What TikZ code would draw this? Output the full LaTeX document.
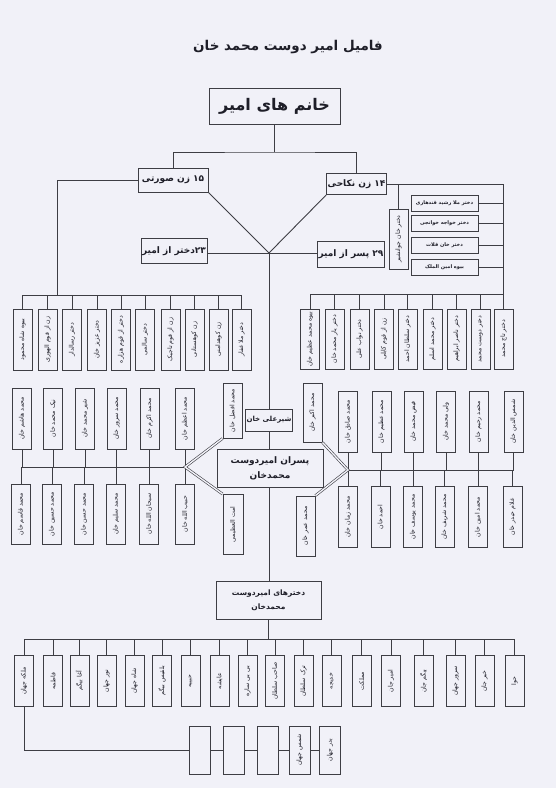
\documentclass[tikz,border=0pt]{standalone}
\usepackage{fontspec}
\usepackage{graphicx}
\newfontfamily\farsi[Script=Arabic]{DejaVu Sans}
\TeXXeTstate=1
\usetikzlibrary{positioning}
\definecolor{PaperWhite}{RGB}{241,241,248}
\definecolor{LineGray}{RGB}{62,62,68}
\definecolor{InkDark}{RGB}{30,30,40}
\newcommand{\fa}[1]{\beginR #1\endR}
\newcommand{\vfa}[1]{\rotatebox{90}{\beginR #1\endR}}

\tikzset{
  link/.style={draw=LineGray, line width=0.9pt},
  dlink/.style={draw=LineGray, line width=0.6pt, double=PaperWhite, double distance=1.4pt},
  box/.style={draw=LineGray, line width=1pt, text=InkDark, inner sep=1pt},
  headbox/.style={box, font=\farsi\bfseries\fontsize{9}{11}\selectfont},
  namebox/.style={box, minimum width=19pt, minimum height=60pt, font=\farsi\fontsize{6.2}{7}\selectfont},
  girlbox/.style={namebox, minimum height=51pt},
  sidebox/.style={box, minimum width=67pt, minimum height=16pt, font=\farsi\bfseries\fontsize{5}{6}\selectfont},
}

\begin{document}
\begin{tikzpicture}[x=1pt,y=-1pt]
  \fill[PaperWhite] (0,0) rectangle (556,788);
  \useasboundingbox (0,0) rectangle (556,788);

  % title and head
  \node[font=\farsi\bfseries\fontsize{13.5}{15}\selectfont, text=InkDark] (title) at (288,47) {\fa{فامیل امیر دوست محمد خان}};
  \node[box, minimum width=131pt, minimum height=36pt, font=\farsi\bfseries\fontsize{16}{18}\selectfont] (khanum) at (274.5,106) {\fa{خانم های امیر}};

  % wives and children counts
  \node[headbox, minimum width=70pt, minimum height=24pt] (surati) at (173,180) {\fa{۱۵ زن صورتی}};
  \node[headbox, minimum width=59pt, minimum height=21pt] (nikahi) at (356.5,184) {\fa{۱۴ زن نکاحی}};
  \node[headbox, minimum width=66pt, minimum height=25pt] (dcount) at (174,251) {\fa{۲۳دختر از امیر}};
  \node[headbox, minimum width=54pt, minimum height=26pt] (pcount) at (351,254) {\fa{۲۹ پسر از امیر}};

  \coordinate (ktop) at (274.5,152);
  \coordinate (vmeet) at (269,253);
  \draw[link] (khanum.south) -- (ktop);
  \draw[link] (surati.north) |- (ktop) -| (nikahi.north);
  \draw[link] (surati.south east) -- (vmeet) -- (nikahi.south west);
  \draw[link] (dcount.east |- vmeet) -- (pcount.west |- vmeet);

  % left wives
  \coordinate (lwbar) at (57,295);
  \draw[link] (surati.west) -| (lwbar);
  \foreach \x/\nm [count=\i] in {22.5/بیوه شاه محمود, 47.5/زن از قوم الهوری, 72/دختر رسالدار,
      97/دختر عزیز خان, 121/دختر از قوم هزاره, 145/دختر سالمی, 170.5/زن از قوم تاجیک,
      194.5/زن کوهستانی, 218.5/زن کوهدامنی, 241.5/دختر ملا غفار}{
    \node[namebox, minimum height=61pt] (lw\i) at (\x,339.5) {\vfa{\nm}};
    \draw[link] (lw\i.north) -- (lw\i.north |- lwbar);
  }
  \draw[link] (lw1.north |- lwbar) -- (lw10.north |- lwbar);

  % right wives
  \coordinate (rtop) at (503.5,184);
  \coordinate (rwbar) at (503.5,294);
  \draw[link] (nikahi.east) -- (rtop) -- (rwbar);
  \foreach \x/\nm [count=\i] in {310/بیوه محمد عظیم خان, 334.5/دختر یار محمد خان, 359.5/دختر نواب علی,
      384/زن از قوم کابلی, 407.5/دختر سلطان احمد, 432.5/دختر محمد اسلم,
      456.5/دختر ناصر ابراهیم, 480.5/دختر دوست محمد, 503.5/دختر تاج محمد}{
    \node[namebox] (rw\i) at (\x,339) {\vfa{\nm}};
    \draw[link] (rw\i.north) -- (rw\i.north |- rwbar);
  }
  \draw[link] (rw1.north |- rwbar) -- (rwbar);

  \foreach \y/\nm [count=\i] in {203/دختر ملا رشید قندهاری, 223.5/دختر خواجه خوانجی,
      245/دختر خان قلات, 267.5/بیوه امین الملک}{
    \node[sidebox] (sd\i) at (444.5,\y) {\fa{\nm}};
    \draw[link] (sd\i.east) -- (sd\i.east -| rtop);
  }
  \node[namebox] (jawan) at (398.5,239) {\vfa{دختر خان جوانشیر}};
  \draw[link] (jawan.north) -- (jawan.north |- rtop);

  % sons
  \node[headbox, minimum width=39pt, minimum height=22pt, font=\farsi\bfseries\fontsize{7}{9}\selectfont] (sherali) at (269,420) {\fa{شیرعلی خان}};
  \node[headbox, minimum width=106pt, minimum height=38pt, align=center] (pesaran) at (270,468) {\fa{پسران امیردوست}\\[4pt]\fa{محمدخان}};
  \draw[link] (vmeet) -- (sherali.north);
  \draw[link] (sherali.south) -- (sherali.south |- pesaran.north);

  \coordinate (lj) at (185,467);
  \coordinate (rj) at (348,470);
  \foreach \x/\nm [count=\i] in {22/محمد هاشم خان, 53/نیک محمد خان, 85/شیر محمد خان,
      116.5/محمد سرور خان, 149.5/محمد اکرم خان, 185/محمد اعظم خان}{
    \node[namebox, minimum height=61pt] (ul\i) at (\x,418.5) {\vfa{\nm}};
    \draw[link] (ul\i.south) -- (ul\i.south |- lj);
  }
  \foreach \x/\nm [count=\i] in {21/محمد قاسم خان, 52/محمد حسین خان, 84/محمد حسن خان,
      116/محمد سلیم خان, 149/سبحان الله خان, 185/حبیب الله خان}{
    \node[namebox] (ll\i) at (\x,514) {\vfa{\nm}};
    \draw[link] (ll\i.north) -- (ll\i.north |- lj);
  }
  \draw[link] (ul1.south |- lj) -- (lj);
  \node[namebox, minimum height=55pt] (afzal) at (232.5,410.5) {\vfa{محمد افضل خان}};
  \node[namebox, minimum width=20pt] (azimi) at (233,524.5) {\vfa{امت العظیمی}};
  \draw[dlink] (afzal.south west) -- (lj) -- (azimi.north west);

  \foreach \x/\nm [count=\i] in {348/محمد صادق خان, 381.5/محمد عظیم خان, 413.5/فیض محمد خان,
      446/ولی محمد خان, 478.5/محمد رحیم خان, 513.5/شمس الدین خان}{
    \node[namebox, minimum height=61pt] (ur\i) at (\x,421.5) {\vfa{\nm}};
    \draw[link] (ur\i.south) -- (ur\i.south |- rj);
  }
  \foreach \x/\nm [count=\i] in {348/محمد زمان خان, 380.5/احمد خان, 413/محمد یوسف خان,
      444.5/محمد شریف خان, 478/محمد امین خان, 512.5/غلام حیدر خان}{
    \node[namebox, minimum height=61pt] (lr\i) at (\x,517) {\vfa{\nm}};
    \draw[link] (lr\i.north) -- (lr\i.north |- rj);
  }
  \draw[link] (rj) -- (ur6.south |- rj);
  \node[namebox, minimum height=59pt] (akbar) at (312.5,412.5) {\vfa{محمد اکبر خان}};
  \node[namebox] (omar) at (305.5,526) {\vfa{محمد عمر خان}};
  \draw[dlink] (akbar.south east) -- (rj) -- (omar.north east);

  % daughters
  \node[headbox, minimum width=105pt, minimum height=38pt, align=center, font=\farsi\bfseries\fontsize{7.5}{9}\selectfont] (dokhtaran) at (268.5,600) {\fa{دخترهای امیردوست}\\[5pt]\fa{محمدخان}};
  \draw[link] (pesaran.south -| sherali) -- (dokhtaran.north -| sherali);
  \coordinate (dbar) at (268.5,639);
  \draw[link] (dokhtaran.south) -- (dbar);
  \foreach \x/\nm [count=\i] in {24/ملکه جهان, 53/فاطمه, 79.5/آغا بیگم, 106.5/نور جهان,
      134.5/شاه جهان, 162/بلقیس بیگم, 190.5/حبیبه, 219.5/عایشه, 247.5/بی بی ساره,
      275/صاحب سلطان, 303.5/ترک سلطان, 331.5/خدیجه, 361.5/مملکت, 391/امیر جان,
      423.5/بیگم جان, 455.5/سرور جهان, 484.5/خیر جان, 514.5/حوا}{
    \node[girlbox] (dg\i) at (\x,681) {\vfa{\nm}};
    \draw[link] (dg\i.north) -- (dg\i.north |- dbar);
  }
  \draw[link] (dg1.north |- dbar) -- (dg18.north |- dbar);

  \foreach \x/\nm [count=\i] in {199.5/, 234/, 267.5/, 299.5/شمس جهان, 330/بدر جهان}{
    \node[girlbox, minimum width=21pt, minimum height=48pt] (ch\i) at (\x,750) {\vfa{\nm}};
  }
  \draw[link] (dg1.south) |- (ch1.west);
  \foreach \a/\b in {1/2, 2/3, 3/4, 4/5}
    \draw[link] (ch\a.east) -- (ch\b.west);
\end{tikzpicture}
\end{document}
